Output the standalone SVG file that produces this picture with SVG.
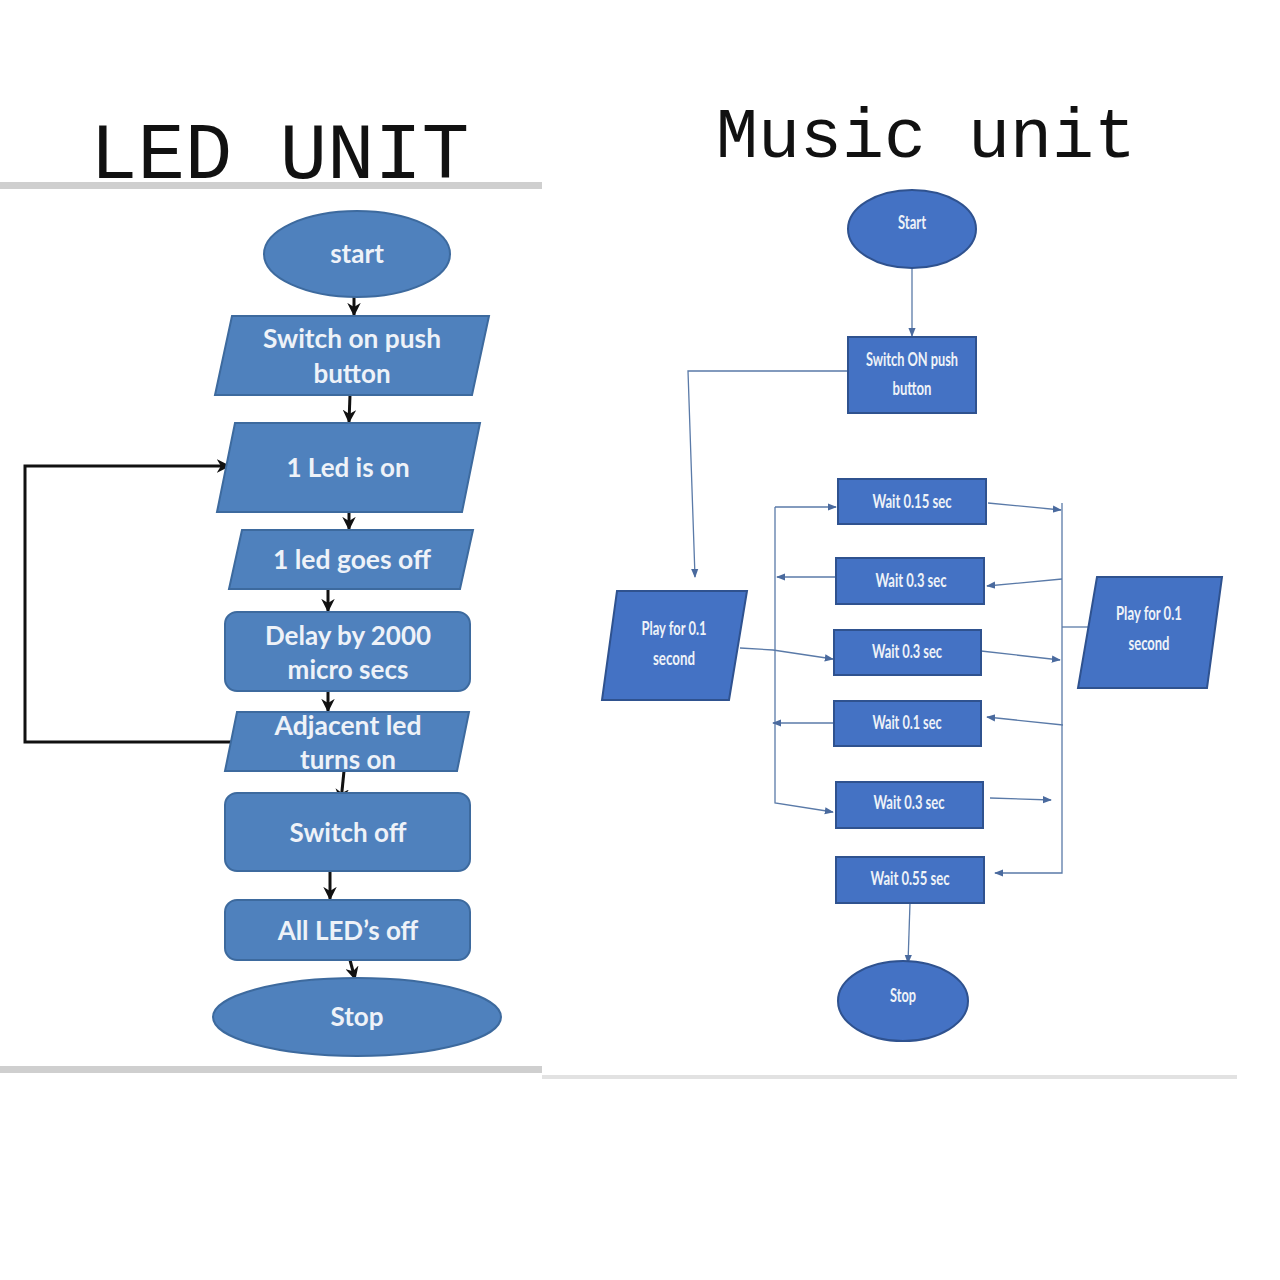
<svg xmlns="http://www.w3.org/2000/svg" width="1280" height="1280" viewBox="0 0 1280 1280">
<defs>
<style>
.title{font-family:"Liberation Mono",monospace;fill:#111;}
.ln{fill:#4f81bd;stroke:#3d6a9e;stroke-width:2;}
.lt{font-family:Lato,"Open Sans",sans-serif;font-size:26px;font-weight:700;fill:#eef2f8;text-anchor:middle;}
.rn{fill:#4472c4;stroke:#2f528f;stroke-width:2;}
.rt{font-family:Lato,"Open Sans",sans-serif;font-size:18px;font-weight:700;fill:#eef2f8;text-anchor:middle;}
.lc{fill:none;stroke:#111;stroke-width:3;}
.rc{fill:none;stroke:#5a7aa8;stroke-width:1.3;}
</style>
<marker id="ab" viewBox="0 0 10 10" refX="9" refY="5" markerWidth="4.5" markerHeight="4.5" orient="auto" markerUnits="strokeWidth"><path d="M0,0 L10,5 L0,10 L3,5 z" fill="#111"/></marker>
<marker id="ab2" viewBox="0 0 10 10" refX="9" refY="5" markerWidth="7" markerHeight="7" orient="auto" markerUnits="strokeWidth"><path d="M0,1 L10,5 L0,9 z" fill="#4a6a9e"/></marker>
</defs>
<rect width="1280" height="1280" fill="#fff"/>
<text class="title" x="90" y="178" font-size="79">LED UNIT</text>
<text class="title" x="716" y="157" font-size="70">Music unit</text>
<rect x="0" y="182" width="542" height="7" fill="#cfcfcf"/>
<rect x="0" y="1066" width="542" height="7" fill="#cfcfcf"/>
<rect x="542" y="1075" width="695" height="4" fill="#e2e2e2"/>

<g id="connectors">
<path class="lc" d="M354,297 L354,315" marker-end="url(#ab)"/>
<path class="lc" d="M350,395 L349,422" marker-end="url(#ab)"/>
<path class="lc" d="M349,512 L349,529" marker-end="url(#ab)"/>
<path class="lc" d="M328,589 L328,611" marker-end="url(#ab)"/>
<path class="lc" d="M328,691 L328,711" marker-end="url(#ab)"/>
<path class="lc" d="M344,771 L341,801" marker-end="url(#ab)"/>
<path class="lc" d="M330,871 L330,899" marker-end="url(#ab)"/>
<path class="lc" d="M350,960 L355,979" marker-end="url(#ab)"/>
<path class="lc" d="M231,742 L25,742 L25,466 L229,466" marker-end="url(#ab)"/>

<path class="rc" d="M912,268 L912,336" marker-end="url(#ab2)"/>
<path class="rc" d="M848,371 L688,371 L695,577" marker-end="url(#ab2)"/>
<path class="rc" d="M740,648 L773,650 L833,659" marker-end="url(#ab2)"/>
<path class="rc" d="M775,507 L775,803 L833,812" marker-end="url(#ab2)"/>
<path class="rc" d="M775,507 L836,507" marker-end="url(#ab2)"/>
<path class="rc" d="M836,577 L777,577" marker-end="url(#ab2)"/>
<path class="rc" d="M833,723 L773,723" marker-end="url(#ab2)"/>
<path class="rc" d="M1062,503 L1062,873 L995,873" marker-end="url(#ab2)"/>
<path class="rc" d="M988,503 L1061,510" marker-end="url(#ab2)"/>
<path class="rc" d="M1062,579 L987,586" marker-end="url(#ab2)"/>
<path class="rc" d="M981,651 L1060,660" marker-end="url(#ab2)"/>
<path class="rc" d="M1063,725 L987,717" marker-end="url(#ab2)"/>
<path class="rc" d="M990,798 L1051,800" marker-end="url(#ab2)"/>
<path class="rc" d="M1062,627 L1089,627"/>
<path class="rc" d="M910,903 L908,963" marker-end="url(#ab2)"/>
</g>

<g id="l-start"><ellipse class="ln" cx="357" cy="254" rx="93" ry="43"/><text class="lt" x="357" y="263">start</text></g>
<g id="l-switch-on"><polygon class="ln" points="232,316 489,316 472,395 215,395"/><text class="lt" x="352" y="348" textLength="178" lengthAdjust="spacingAndGlyphs">Switch on push</text><text class="lt" x="352" y="383">button</text></g>
<g id="l-led-on"><polygon class="ln" points="235,423 480,423 462,512 217,512"/><text class="lt" x="348" y="477">1 Led is on</text></g>
<g id="l-led-off"><polygon class="ln" points="242,530 473,530 460,589 229,589"/><text class="lt" x="352" y="569" textLength="158" lengthAdjust="spacingAndGlyphs">1 led goes off</text></g>
<g id="l-delay"><rect class="ln" x="225" y="612" width="245" height="79" rx="12"/><text class="lt" x="348" y="645" textLength="166" lengthAdjust="spacingAndGlyphs">Delay by 2000</text><text class="lt" x="348" y="679">micro secs</text></g>
<g id="l-adjacent"><polygon class="ln" points="237,712 469,712 457,771 225,771"/><text class="lt" x="348" y="735" textLength="147" lengthAdjust="spacingAndGlyphs">Adjacent led</text><text class="lt" x="348" y="769">turns on</text></g>
<g id="l-switch-off"><rect class="ln" x="225" y="793" width="245" height="78" rx="12"/><text class="lt" x="348" y="842">Switch off</text></g>
<g id="l-all-off"><rect class="ln" x="225" y="900" width="245" height="60" rx="12"/><text class="lt" x="348" y="940">All LED’s off</text></g>
<g id="l-stop"><ellipse class="ln" cx="357" cy="1017" rx="144" ry="39"/><text class="lt" x="357" y="1026">Stop</text></g>

<g id="r-start"><ellipse class="rn" cx="912" cy="229" rx="64" ry="39"/><text class="rt" x="912" y="229" textLength="28" lengthAdjust="spacingAndGlyphs">Start</text></g>
<g id="r-switch"><rect class="rn" x="848" y="337" width="128" height="76"/><text class="rt" x="912" y="366" textLength="92" lengthAdjust="spacingAndGlyphs">Switch ON push</text><text class="rt" x="912" y="395" textLength="39" lengthAdjust="spacingAndGlyphs">button</text></g>
<g id="r-play-left"><polygon class="rn" points="617,591 747,591 729,700 602,700"/><text class="rt" x="674" y="635" textLength="65" lengthAdjust="spacingAndGlyphs">Play for 0.1</text><text class="rt" x="674" y="665" textLength="42" lengthAdjust="spacingAndGlyphs">second</text></g>
<g id="r-play-right"><polygon class="rn" points="1097,577 1222,577 1207,688 1078,688"/><text class="rt" x="1149" y="620" textLength="66" lengthAdjust="spacingAndGlyphs">Play for 0.1</text><text class="rt" x="1149" y="650" textLength="41" lengthAdjust="spacingAndGlyphs">second</text></g>
<g id="r-wait1"><rect class="rn" x="838" y="479" width="148" height="45"/><text class="rt" x="912" y="508" textLength="79" lengthAdjust="spacingAndGlyphs">Wait 0.15 sec</text></g>
<g id="r-wait2"><rect class="rn" x="836" y="558" width="148" height="46"/><text class="rt" x="911" y="587" textLength="71" lengthAdjust="spacingAndGlyphs">Wait 0.3 sec</text></g>
<g id="r-wait3"><rect class="rn" x="834" y="630" width="147" height="45"/><text class="rt" x="907" y="658" textLength="70" lengthAdjust="spacingAndGlyphs">Wait 0.3 sec</text></g>
<g id="r-wait4"><rect class="rn" x="834" y="701" width="147" height="45"/><text class="rt" x="907" y="729" textLength="69" lengthAdjust="spacingAndGlyphs">Wait 0.1 sec</text></g>
<g id="r-wait5"><rect class="rn" x="836" y="782" width="147" height="46"/><text class="rt" x="909" y="809" textLength="71" lengthAdjust="spacingAndGlyphs">Wait 0.3 sec</text></g>
<g id="r-wait6"><rect class="rn" x="836" y="857" width="148" height="46"/><text class="rt" x="910" y="885" textLength="79" lengthAdjust="spacingAndGlyphs">Wait 0.55 sec</text></g>
<g id="r-stop"><ellipse class="rn" cx="903" cy="1001" rx="65" ry="40"/><text class="rt" x="903" y="1002" textLength="26" lengthAdjust="spacingAndGlyphs">Stop</text></g>
</svg>
